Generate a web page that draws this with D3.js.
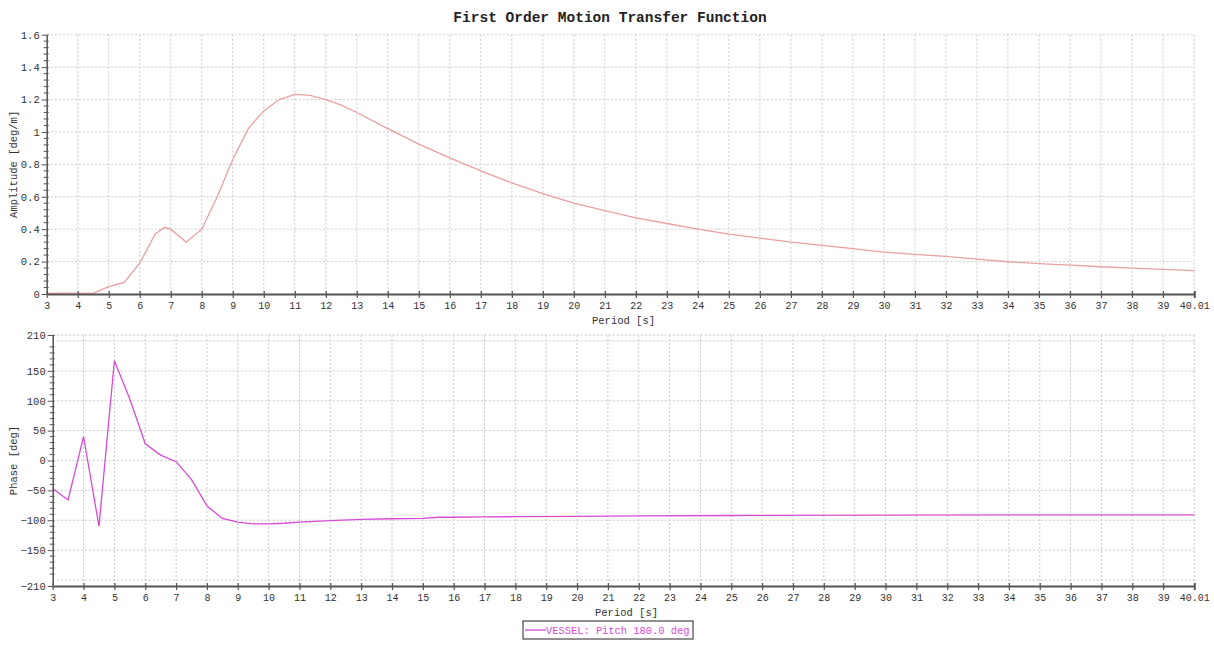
<!DOCTYPE html>
<html>
<head>
<meta charset="utf-8">
<script src="https://cdn.jsdelivr.net/npm/d3@7"></script>
<style>
  html, body { margin: 0; padding: 0; background: #fff; }
  svg { display: block; }
  text { font-family: "Liberation Mono", "Courier New", monospace; fill: #333; }
</style>
</head>
<body>
<svg id="chart" width="1214" height="646"></svg>
<script>
// Period samples [s]
const periodAmp = [3, 3.5, 4, 4.5, 5, 5.5, 6, 6.5, 6.8, 7, 7.5, 8, 8.5, 9, 9.5, 10, 10.5, 11, 11.5, 12, 12.5, 13, 14, 15, 16, 17, 18, 19, 20, 21, 22, 23, 24, 25, 26, 27, 28, 29, 30, 31, 32, 33, 34, 35, 36, 37, 38, 39, 40.01];
// Pitch amplitude RAO [deg/m]
const amplitude = [0.003, 0.005, 0.005, 0.004, 0.045, 0.072, 0.19, 0.37, 0.41, 0.40, 0.32, 0.40, 0.60, 0.83, 1.02, 1.13, 1.20, 1.232, 1.225, 1.20, 1.165, 1.12, 1.02, 0.925, 0.84, 0.76, 0.685, 0.62, 0.56, 0.515, 0.47, 0.435, 0.40, 0.37, 0.345, 0.32, 0.30, 0.28, 0.258, 0.245, 0.232, 0.215, 0.199, 0.188, 0.178, 0.168, 0.16, 0.152, 0.144];

const periodPhase = [3, 3.5, 4, 4.5, 5, 5.5, 6, 6.5, 7, 7.5, 8, 8.5, 9, 9.5, 10, 10.5, 11, 12, 13, 14, 15, 15.5, 16, 17, 18, 20, 22, 25, 30, 35, 40.01];
// Pitch phase [deg]
const phase = [-47, -66, 40, -110, 167, 103, 28, 9, -2, -32, -76, -97, -103, -106, -106, -105, -103, -100.5, -98.5, -97.5, -97, -95, -95, -94.5, -94, -93.5, -92.5, -92, -91.5, -91, -91];

// Tick labels
const xTicks = d3.range(3, 40).concat([40.01]);
const ampTicks = [0, 0.2, 0.4, 0.6, 0.8, 1, 1.2, 1.4, 1.6];
const phaseLabelTicks = [-210, -150, -100, -50, 0, 50, 100, 150, 210];
const phaseGridTicks = [-210, -200, -150, -100, -50, 0, 50, 100, 150, 200, 210];

const titleText = "First Order Motion Transfer Function";
const seriesName = "VESSEL: Pitch 180.0 deg";

const ampColor = "#e8a0a3";
const phaseColor = "#d84ad8";
const gridColor = "#c9c9c9";
const axisColor = "#555";

const svg = d3.select("#chart");

svg.append("text")
  .attr("x", 610).attr("y", 22)
  .attr("text-anchor", "middle")
  .style("font-size", "14.5px").style("font-weight", "bold").style("fill", "#222")
  .text(titleText);

function xLabel(v) {
  return v === 40.01 ? "40.01" : d3.format("d")(v);
}

function panel(opts) {
  const { left, right, top, bottom, domain, gridY, labelY, minorY, yFormat, yTitle, xs, ys, color } = opts;
  const x = d3.scaleLinear().domain([3, 40.01]).range([left, right]);
  const y = d3.scaleLinear().domain(domain).range([bottom, top]);
  const g = svg.append("g");

  // vertical grid
  g.append("g").selectAll("line")
    .data(xTicks.filter(d => d > 3))
    .join("line")
    .attr("x1", d => x(d)).attr("x2", d => x(d))
    .attr("y1", top).attr("y2", bottom)
    .attr("stroke", gridColor).attr("stroke-dasharray", "2,2").attr("stroke-width", 1);

  // horizontal grid
  g.append("g").selectAll("line")
    .data(gridY.filter(d => d !== domain[0]))
    .join("line")
    .attr("x1", left).attr("x2", right)
    .attr("y1", d => y(d)).attr("y2", d => y(d))
    .attr("stroke", gridColor).attr("stroke-dasharray", "2,2").attr("stroke-width", 1);

  // series line
  const line = d3.line().x((d, i) => x(xs[i])).y(d => y(d));
  g.append("path")
    .datum(ys)
    .attr("d", line)
    .attr("fill", "none")
    .attr("stroke", color)
    .attr("stroke-width", 1.3);

  // x axis
  const xAxis = d3.axisBottom(x).tickValues(xTicks).tickFormat(xLabel).tickSize(4).tickSizeOuter(0);
  const xg = g.append("g").attr("transform", `translate(0,${bottom})`).call(xAxis);
  xg.select(".domain").attr("stroke", axisColor).attr("stroke-width", 2);
  xg.selectAll(".tick line").attr("stroke", axisColor).attr("y1", -3).attr("stroke-width", 1.2);
  xg.selectAll(".tick text").attr("y", 8).style("font-size", "10px").style("font-family", "'Liberation Mono', monospace").attr("fill", "#333");
  xg.selectAll(".tick").filter(d => d === 40.01).select("line").attr("stroke-width", 2);

  g.append("text")
    .attr("x", (left + right) / 2 + 3).attr("y", bottom + 30)
    .attr("text-anchor", "middle")
    .style("font-size", "10.5px")
    .text("Period [s]");

  // y axis with labelled major ticks
  const yAxis = d3.axisLeft(y).tickValues(labelY).tickFormat(yFormat).tickSize(4).tickSizeOuter(0);
  const yg = g.append("g").attr("transform", `translate(${left},0)`).call(yAxis);
  yg.select(".domain").attr("stroke", axisColor).attr("stroke-width", 1.5);
  yg.selectAll(".tick line").attr("stroke", axisColor).attr("x2", -5).attr("x1", 2);
  yg.selectAll(".tick text").attr("x", -7).style("font-size", "10.5px").style("font-family", "'Liberation Mono', monospace").attr("fill", "#333");

  // minor ticks
  const mg = g.append("g").attr("transform", `translate(${left},0)`);
  mg.selectAll("line").data(minorY).join("line")
    .attr("x1", -3).attr("x2", 2)
    .attr("y1", d => y(d)).attr("y2", d => y(d))
    .attr("stroke", axisColor).attr("stroke-width", 1);

  g.append("text")
    .attr("transform", `translate(17,${(top + bottom) / 2}) rotate(-90)`)
    .attr("text-anchor", "middle")
    .style("font-size", "10.5px")
    .text(yTitle);
}

const ampMinor = d3.range(0, 1.6001, 0.04).filter(v => Math.abs(v / 0.2 - Math.round(v / 0.2)) > 1e-6);
panel({
  left: 46.7, right: 1194.3, top: 34.7, bottom: 294,
  domain: [0, 1.6],
  gridY: ampTicks, labelY: ampTicks, minorY: ampMinor,
  yFormat: d => d === 0 ? "0" : (d === 1 ? "1" : d3.format(".1f")(d)),
  yTitle: "Amplitude [deg/m]",
  xs: periodAmp, ys: amplitude, color: ampColor
});

const phaseMinor = d3.range(-200, 201, 10).filter(v => v % 50 !== 0);
panel({
  left: 52.7, right: 1194.3, top: 335, bottom: 586,
  domain: [-210, 210],
  gridY: phaseGridTicks, labelY: phaseLabelTicks, minorY: phaseMinor,
  yFormat: d3.format("d"),
  yTitle: "Phase [deg]",
  xs: periodPhase, ys: phase, color: phaseColor
});

// legend
const lg = svg.append("g").attr("transform", "translate(523,621)");
lg.append("rect").attr("width", 170).attr("height", 18)
  .attr("fill", "#fff").attr("stroke", "#222").attr("stroke-width", 1);
lg.append("line").attr("x1", 2).attr("x2", 23).attr("y1", 9).attr("y2", 9)
  .attr("stroke", phaseColor).attr("stroke-width", 1.3);
lg.append("text").attr("x", 23).attr("y", 13)
  .style("font-size", "10.4px").style("fill", phaseColor)
  .text(seriesName);
</script>
</body>
</html>
